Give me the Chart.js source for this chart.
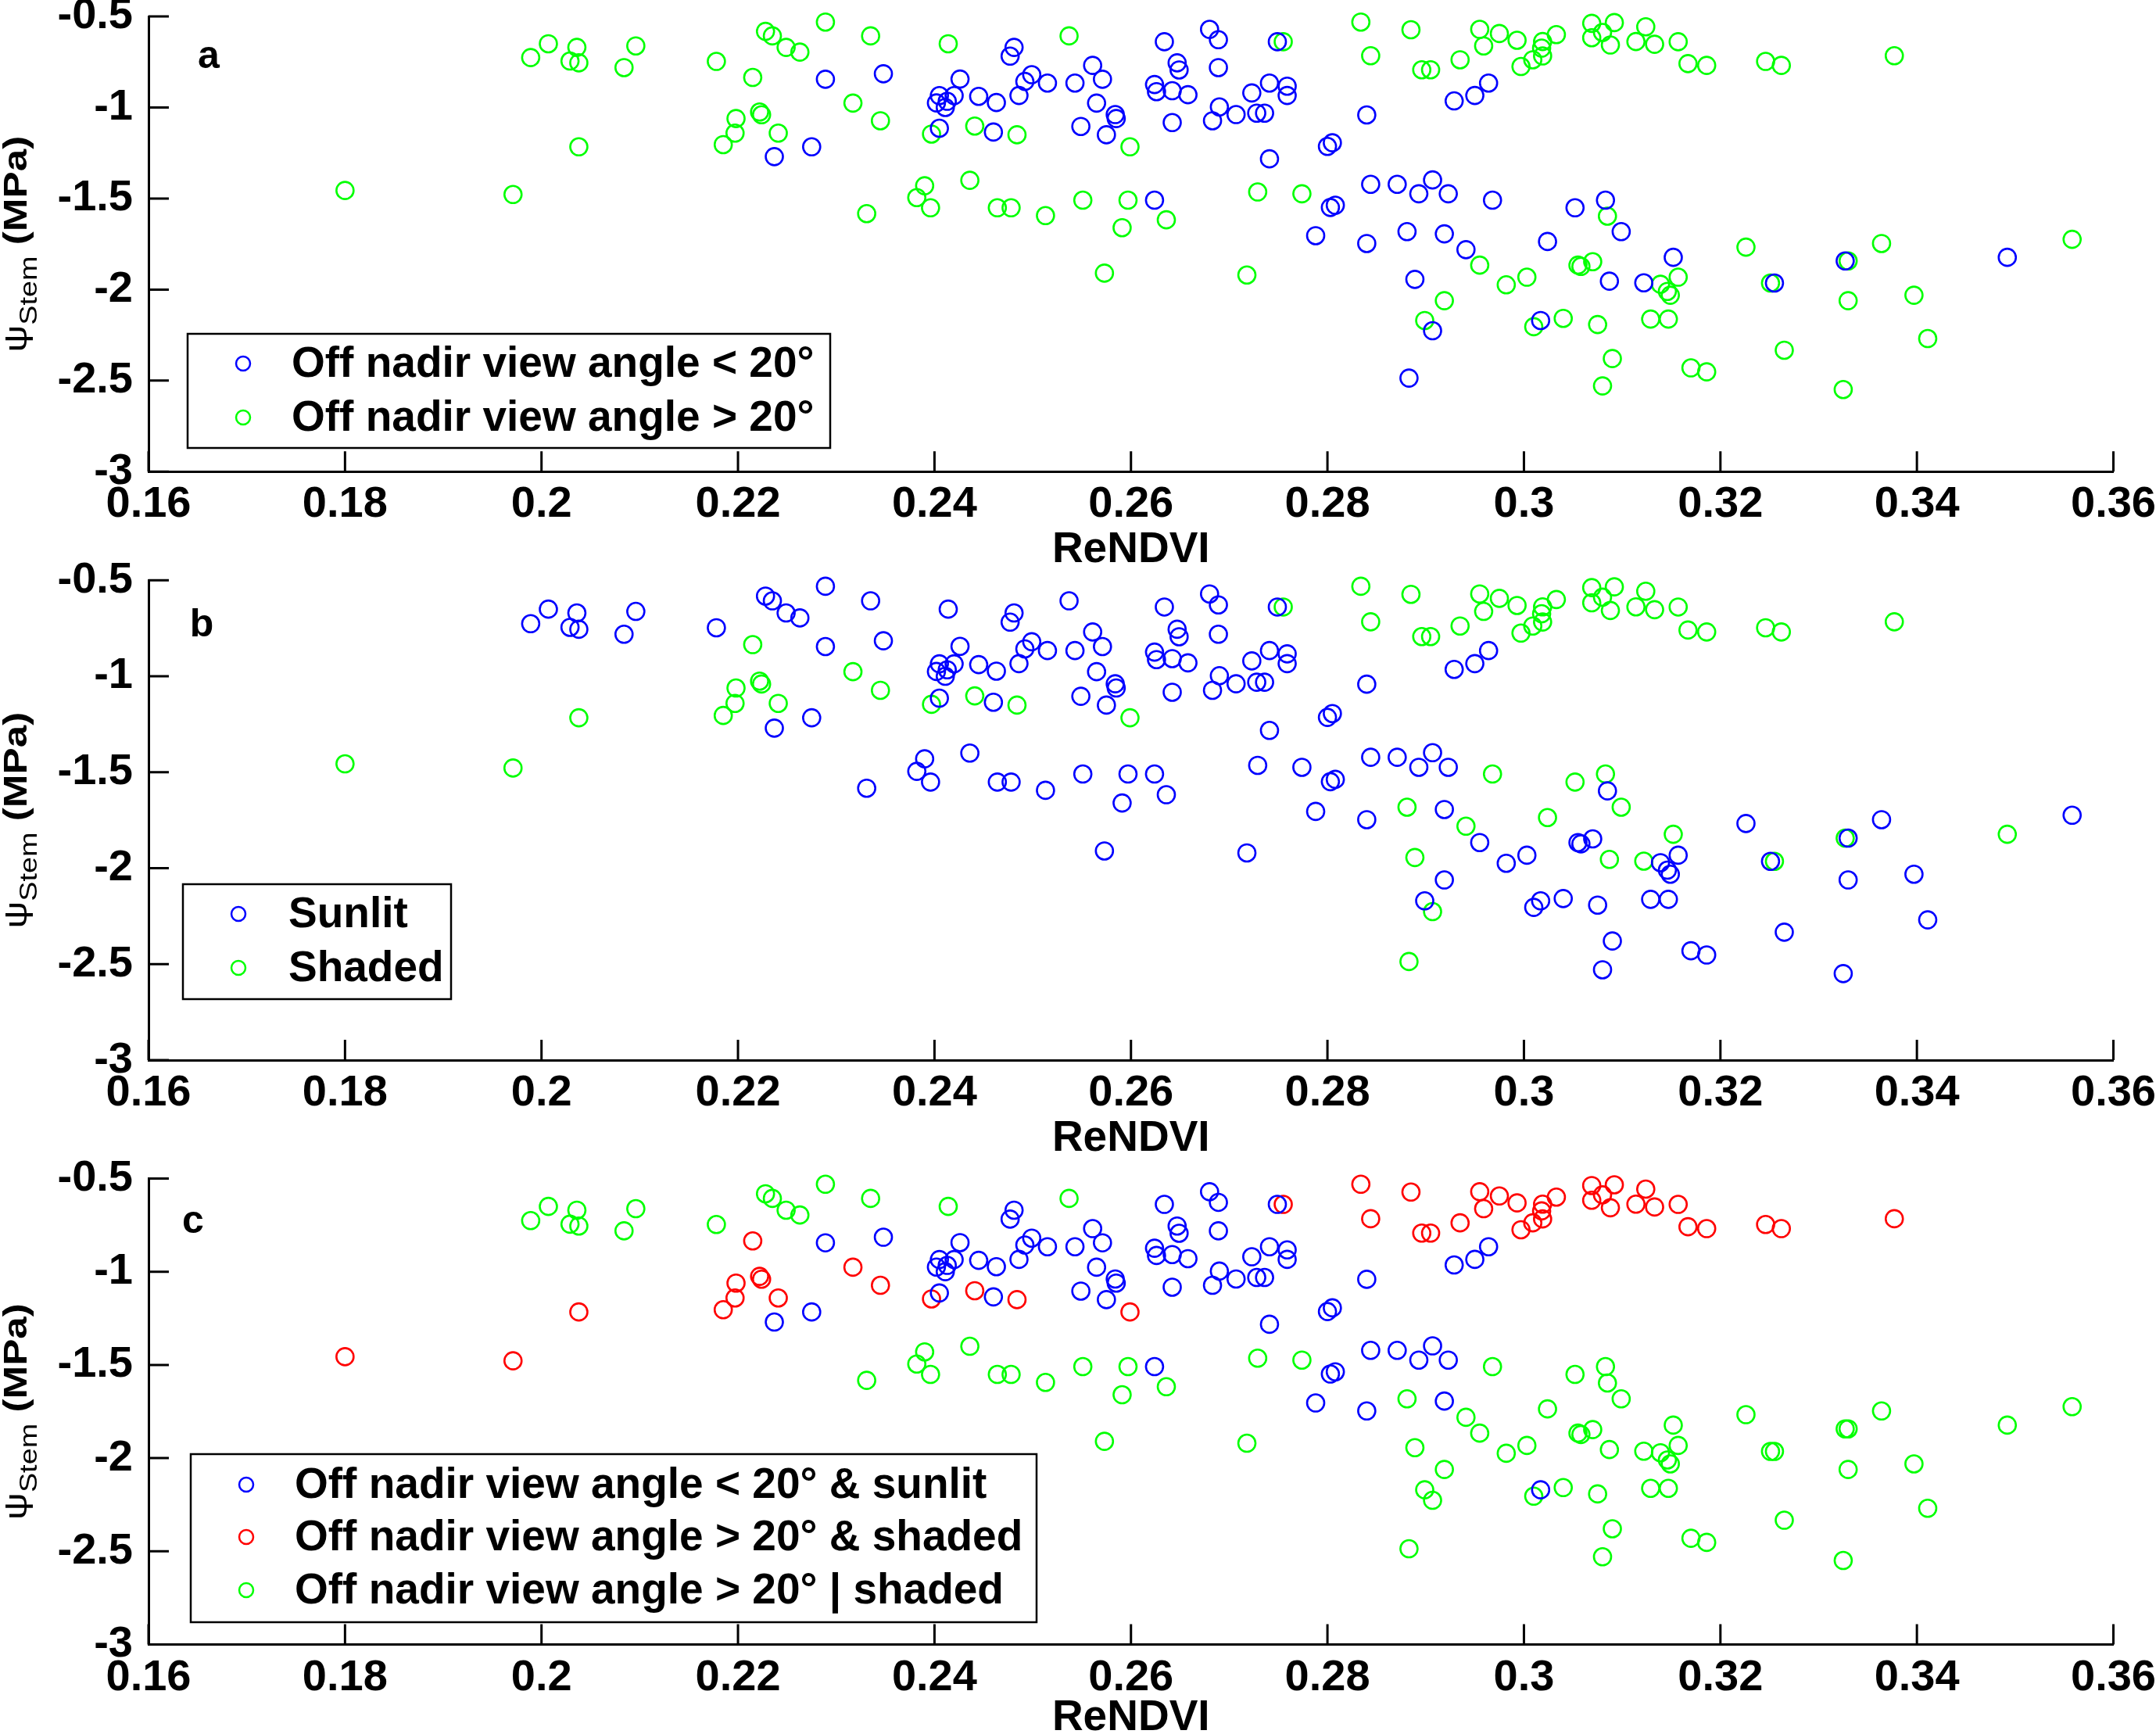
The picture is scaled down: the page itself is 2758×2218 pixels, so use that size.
<!DOCTYPE html>
<html>
<head>
<meta charset="utf-8">
<script src="https://cdn.jsdelivr.net/npm/chart.js@4.4.0/dist/chart.umd.min.js"></script>
<style>
  html, body { margin: 0; padding: 0; background: #fff; }
  #wrap { position: relative; width: 2758px; height: 2218px; background: #fff; }
  canvas { position: absolute; left: 0; top: 0; }
</style>
</head>
<body>
<div id="wrap">
  <canvas id="chartA" width="2758" height="2218"></canvas>
  <canvas id="chartB" width="2758" height="2218"></canvas>
  <canvas id="chartC" width="2758" height="2218"></canvas>
</div>
<script>
// ticks
const xTicks = [0.16, 0.18, 0.2, 0.22, 0.24, 0.26, 0.28, 0.3, 0.32, 0.34, 0.36];
const yTicks = [-3, -2.5, -2, -1.5, -1, -0.5];

// off nadir view angle < 20 deg, sunlit
const narrowSunlitX = [0.2289, 0.2348, 0.2237, 0.2275, 0.2405, 0.2426, 0.2405, 0.2420, 0.2402, 0.2413,
  0.2411, 0.2445, 0.2463, 0.2460, 0.2481, 0.2477, 0.2499, 0.2492, 0.2486, 0.2515,
  0.2543, 0.2561, 0.2571, 0.2565, 0.2549, 0.2584, 0.2585, 0.2575,
  0.2634, 0.2680, 0.2689, 0.2647, 0.2649, 0.2689, 0.2624, 0.2626, 0.2642, 0.2658,
  0.2642, 0.2690, 0.2683, 0.2707, 0.2723, 0.2741, 0.2759, 0.2759, 0.2728, 0.2736,
  0.2749, 0.2741, 0.2800, 0.2805, 0.2840, 0.2624, 0.2803, 0.2808, 0.2788, 0.2840,
  0.2844, 0.2871, 0.2907, 0.2893, 0.2923, 0.2919, 0.3017, 0.2964, 0.2950, 0.2929];
const narrowSunlitY = [-0.845, -0.815, -1.270, -1.216, -1.114, -0.844, -0.935, -0.935, -0.975, -0.966,
  -1.000, -0.939, -0.973, -1.135, -0.670, -0.718, -0.820, -0.857, -0.934, -0.866,
  -0.866, -0.769, -0.845, -0.976, -1.104, -1.039, -1.061, -1.150,
  -0.639, -0.571, -0.628, -0.755, -0.794, -0.781, -0.874, -0.913, -0.908, -0.930,
  -1.083, -0.997, -1.073, -1.039, -0.920, -0.866, -0.883, -0.934, -1.031, -1.031,
  -0.639, -1.282, -1.214, -1.194, -1.041, -1.509, -1.549, -1.537, -1.704, -1.747,
  -1.422, -1.422, -1.398, -1.474, -1.474, -1.694, -2.170, -0.866, -0.934, -0.964];

// off nadir view angle < 20 deg, shaded
const narrowShadedX = [0.2968, 0.2881, 0.2941, 0.2889, 0.2907, 0.2883, 0.3024, 0.3052, 0.3083, 0.3099,
  0.3087, 0.3122, 0.3152, 0.3255, 0.3327, 0.3492];
const narrowShadedY = [-1.509, -1.682, -1.781, -1.944, -2.226, -2.486, -1.736, -1.551, -1.509, -1.682,
  -1.954, -1.963, -1.823, -1.964, -1.843, -1.823];

// off nadir view angle > 20 deg, sunlit
const wideSunlitX = [0.1989, 0.2007, 0.2036, 0.2029, 0.2038, 0.2084, 0.2096, 0.2178, 0.2228, 0.2235,
  0.2249, 0.2263, 0.2289, 0.2335, 0.2414, 0.2537, 0.2390, 0.2382, 0.2396, 0.2331,
  0.2436, 0.2464, 0.2478, 0.2513, 0.2551, 0.2597, 0.2591, 0.2573,
  0.2636, 0.2729, 0.2774, 0.2718, 0.2955, 0.2919, 0.2899, 0.2982, 0.3003, 0.3085,
  0.3055, 0.3058, 0.3070, 0.3010, 0.3040, 0.3075, 0.3090, 0.3080,
  0.3139, 0.3157, 0.3146, 0.3149, 0.3129, 0.3147, 0.3170, 0.3186, 0.3226, 0.3251,
  0.3265, 0.3330, 0.3364, 0.3330, 0.3325, 0.3397, 0.3411, 0.3558];
const wideSunlitY = [-0.726, -0.650, -0.670, -0.745, -0.755, -0.781, -0.662, -0.747, -0.582, -0.607,
  -0.670, -0.696, -0.531, -0.607, -0.650, -0.607, -1.430, -1.495, -1.551, -1.583,
  -1.400, -1.551, -1.551, -1.594, -1.509, -1.509, -1.660, -1.910,
  -1.617, -1.464, -1.474, -1.920, -1.866, -2.061, -2.170, -1.974, -1.932, -1.597,
  -1.866, -1.873, -1.847, -2.204, -2.158, -2.192, -2.379, -2.529,
  -1.971, -1.932, -2.010, -2.031, -2.162, -2.162, -2.430, -2.452, -1.767, -1.964,
  -2.333, -1.843, -1.747, -2.061, -2.549, -2.031, -2.269, -1.724];

// off nadir view angle > 20 deg, shaded
const wideShadedX = [0.1800, 0.1971, 0.2038, 0.2215, 0.2198, 0.2222, 0.2224, 0.2197, 0.2185, 0.2241,
  0.2317, 0.2345, 0.2397, 0.2441, 0.2484, 0.2599,
  0.2755, 0.2834, 0.2885, 0.2844, 0.2896, 0.2905, 0.2935, 0.2955, 0.2959, 0.2975,
  0.2993, 0.2997, 0.3009, 0.3019, 0.3018, 0.3019, 0.3033, 0.3069, 0.3092, 0.3069,
  0.3080, 0.3088, 0.3114, 0.3124, 0.3133, 0.3157, 0.3167, 0.3186, 0.3246, 0.3262, 0.3377];
const wideShadedY = [-1.456, -1.478, -1.216, -0.835, -1.061, -1.025, -1.040, -1.141, -1.204, -1.141,
  -0.976, -1.073, -1.146, -1.102, -1.150, -1.216,
  -0.639, -0.531, -0.573, -0.716, -0.793, -0.793, -0.738, -0.571, -0.662, -0.594,
  -0.631, -0.775, -0.738, -0.717, -0.674, -0.638, -0.600, -0.538, -0.534, -0.617,
  -0.588, -0.657, -0.638, -0.557, -0.653, -0.639, -0.759, -0.769, -0.747, -0.769, -0.716];

const FONT = '"Liberation Sans", Arial, Helvetica, sans-serif';
const BLUE = 'rgb(0,0,255)', GREEN = 'rgb(0,255,0)', RED = 'rgb(255,0,0)';

function pts(xs, ys) {
  return xs.map((x, i) => ({ x: x, y: ys[i] }));
}

function serie(label, color, data) {
  return {
    label: label,
    data: data,
    borderColor: color,
    backgroundColor: 'rgba(0,0,0,0)',
    pointStyle: 'circle',
    pointRadius: 11,
    pointHoverRadius: 11,
    pointBorderWidth: 2.6,
    showLine: false,
    clip: false
  };
}

// dibuja ticks hacia dentro, letra del panel, etiqueta Y y leyenda
const decor = {
  id: 'decor',
  afterDraw(chart, args, o) {
    const ctx = chart.ctx;
    const area = chart.chartArea;
    const xs = chart.scales.x, ys = chart.scales.y;
    ctx.save();
    ctx.strokeStyle = '#000';
    ctx.lineWidth = 3;
    ctx.beginPath();
    xs.ticks.forEach(t => {
      const px = xs.getPixelForValue(t.value);
      ctx.moveTo(px, area.bottom);
      ctx.lineTo(px, area.bottom - 26);
    });
    ys.ticks.forEach(t => {
      const py = ys.getPixelForValue(t.value);
      ctx.moveTo(area.left, py);
      ctx.lineTo(area.left + 26, py);
    });
    ctx.stroke();

    // letra
    ctx.fillStyle = '#000';
    ctx.font = 'bold 50px ' + FONT;
    ctx.textAlign = 'center';
    ctx.textBaseline = 'alphabetic';
    ctx.fillText(o.letter, o.letterX, o.letterY);

    // etiqueta del eje Y con subindice
    ctx.save();
    ctx.translate(34, (area.top + area.bottom) / 2);
    ctx.rotate(-Math.PI / 2);
    ctx.scale(1.22, 1);
    const parts = [
      { t: '\u03C8', f: '40px ' + FONT, dy: 0 },
      { t: 'Stem', f: '31px ' + FONT, dy: 13 },
      { t: ' (MPa)', f: 'bold 42px ' + FONT, dy: 0 }
    ];
    let total = 0;
    parts.forEach(p => { ctx.font = p.f; p.w = ctx.measureText(p.t).width; total += p.w; });
    let cx = -total / 2;
    ctx.textAlign = 'left';
    parts.forEach(p => { ctx.font = p.f; ctx.fillText(p.t, cx, p.dy); cx += p.w; });
    ctx.restore();

    // leyenda
    const lg = o.legend;
    ctx.fillStyle = '#fff';
    ctx.fillRect(lg.x, lg.y, lg.w, lg.h);
    ctx.lineWidth = 2.5;
    ctx.strokeStyle = '#000';
    ctx.strokeRect(lg.x, lg.y, lg.w, lg.h);
    chart.data.datasets.forEach((d, i) => {
      const ry = lg.rows[i];
      ctx.beginPath();
      ctx.strokeStyle = d.borderColor;
      ctx.lineWidth = 2.5;
      ctx.arc(lg.markerX, ry, 9, 0, Math.PI * 2);
      ctx.stroke();
      ctx.fillStyle = '#000';
      ctx.font = 'bold 55px ' + FONT;
      ctx.textAlign = 'left';
      ctx.textBaseline = 'middle';
      ctx.fillText(d.label, lg.textX, ry + 2);
    });
    ctx.restore();
  }
};

function makePanel(id, p, datasets) {
  return new Chart(document.getElementById(id), {
    type: 'scatter',
    data: { datasets: datasets },
    plugins: [decor],
    options: {
      responsive: false,
      animation: false,
      devicePixelRatio: 1,
      layout: {
        padding: { left: 0, right: 2758 - 2703.5, top: p.top, bottom: 2218 - p.bottom - p.xAxisH }
      },
      plugins: {
        legend: { display: false },
        tooltip: { enabled: false },
        decor: { letter: p.letter, letterX: p.letterX, letterY: p.letterY, legend: p.legend }
      },
      scales: {
        x: {
          type: 'linear',
          min: 0.16,
          max: 0.36,
          afterBuildTicks: s => { s.ticks = xTicks.map(v => ({ value: v })); },
          afterFit: s => { s.height = p.xAxisH; s.paddingLeft = 0; s.paddingRight = 0; },
          grid: { display: false, drawTicks: false },
          border: { display: true, color: '#000', width: 3 },
          ticks: {
            color: '#000',
            padding: 9,
            maxRotation: 0,
            autoSkip: false,
            font: { family: FONT, size: 56, weight: 'bold', lineHeight: 1.2 },
            callback: v => String(v)
          },
          title: {
            display: true,
            text: 'ReNDVI',
            color: '#000',
            padding: 0,
            font: { family: FONT, size: 55, weight: 'bold', lineHeight: 1.2 }
          }
        },
        y: {
          type: 'linear',
          min: -3,
          max: -0.5,
          afterBuildTicks: s => { s.ticks = yTicks.map(v => ({ value: v })); },
          afterFit: s => { s.width = 190; s.paddingTop = 0; s.paddingBottom = 0; },
          grid: { display: false, drawTicks: false },
          border: { display: true, color: '#000', width: 3 },
          ticks: {
            color: '#000',
            padding: 20,
            autoSkip: false,
            font: { family: FONT, size: 56, weight: 'bold', lineHeight: 1.2 },
            callback: v => String(v)
          }
        }
      }
    }
  });
}

const narrowAll = pts(narrowSunlitX.concat(narrowShadedX), narrowSunlitY.concat(narrowShadedY));
const wideAll = pts(wideSunlitX.concat(wideShadedX), wideSunlitY.concat(wideShadedY));
const sunlitAll = pts(narrowSunlitX.concat(wideSunlitX), narrowSunlitY.concat(wideSunlitY));
const shadedAll = pts(narrowShadedX.concat(wideShadedX), narrowShadedY.concat(wideShadedY));
const eitherAll = pts(narrowShadedX.concat(wideSunlitX), narrowShadedY.concat(wideSunlitY));

makePanel('chartA', {
  top: 21, bottom: 603.3, xAxisH: 134, letter: 'a', letterX: 267, letterY: 87,
  legend: { x: 240, y: 427, w: 822, h: 146, rows: [465, 534], markerX: 311, textX: 373 }
}, [
  serie('Off nadir view angle < 20\u00B0', BLUE, narrowAll),
  serie('Off nadir view angle > 20\u00B0', GREEN, wideAll)
]);

makePanel('chartB', {
  top: 742.3, bottom: 1356.1, xAxisH: 134, letter: 'b', letterX: 258, letterY: 814,
  legend: { x: 234, y: 1131, w: 343, h: 147, rows: [1169, 1238], markerX: 305, textX: 369 }
}, [
  serie('Sunlit', BLUE, sunlitAll),
  serie('Shaded', GREEN, shadedAll)
]);

makePanel('chartC', {
  top: 1507.4, bottom: 2103.6, xAxisH: 127, letter: 'c', letterX: 247, letterY: 1577,
  legend: { x: 244, y: 1860, w: 1082, h: 215, rows: [1899, 1966, 2034], markerX: 315, textX: 377 }
}, [
  serie('Off nadir view angle < 20\u00B0 & sunlit', BLUE, pts(narrowSunlitX, narrowSunlitY)),
  serie('Off nadir view angle > 20\u00B0 & shaded', RED, pts(wideShadedX, wideShadedY)),
  serie('Off nadir view angle > 20\u00B0 | shaded', GREEN, eitherAll)
]);
</script>
</body>
</html>
